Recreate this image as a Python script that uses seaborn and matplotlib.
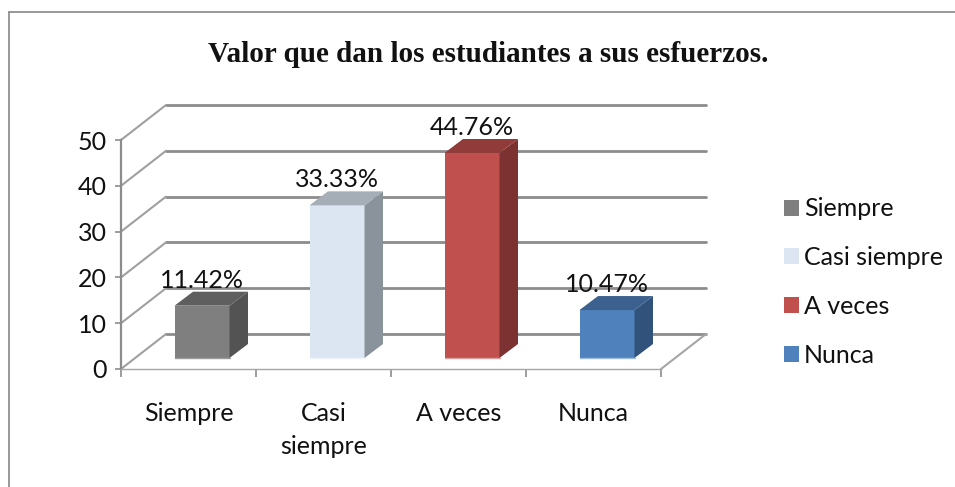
import matplotlib
matplotlib.use('Agg')
import matplotlib.pyplot as plt
import seaborn as sns
from matplotlib.lines import Line2D
from matplotlib.patches import Polygon

categories = ['Siempre', 'Casi siempre', 'A veces', 'Nunca']
tick_labels = ['Siempre', 'Casi\nsiempre', 'A veces', 'Nunca']
values = [11.42, 33.33, 44.76, 10.47]
y_ticks = [0, 10, 20, 30, 40, 50]
title = 'Valor que dan los estudiantes a sus esfuerzos.'

front_colors = ['#7F7F7F', '#DCE6F2', '#C0504D', '#4F81BD']
side_colors = ['#535353', '#8A929C', '#7B3230', '#31527A']
top_colors = ['#5F5F5F', '#A5ADB6', '#913C3A', '#3C618E']
base_colors = ['#9A9A9A', '#EEF3F9', '#D9A09E', '#9DBBDD']
line_color = '#8C8C8C'
text_color = '#111111'

sns.set_theme(style='white')
plt.rcParams['font.family'] = ['Lato', 'DejaVu Sans']

W, H = 955, 487
fig = plt.figure(figsize=(W / 100, H / 100), dpi=100)
# front plane of the fake 3D box, in pixels
left, right, y0_px, y50_px = 121, 661, 369, 140
ax = fig.add_axes([left / W, (H - y0_px) / H, (right - left) / W, (y0_px - y50_px) / H])

sns.barplot(x=categories, y=values, hue=categories, palette=front_colors,
            width=55 / 135, saturation=1, legend=True, linewidth=0, ax=ax, zorder=3)
ax.set_xlim(-0.5, 3.5)
ax.set_ylim(0, 50)

# pixels to data units
ux = (right - left) / 4
uy = (y0_px - y50_px) / 50
wall_dx, wall_dy = 45 / ux, 35 / uy
bar_dx, bar_dy = 13.5 / ux, 11 / uy
side_dx, side_dy = 18.5 / ux, 14 / uy

# back wall gridlines, running back from the value axis
for t in y_ticks:
    ax.plot([-0.5 + wall_dx, 3.5 + wall_dx], [t + wall_dy, t + wall_dy],
            color=line_color, lw=2, clip_on=False, zorder=1)
    ax.plot([-0.5, -0.5 + wall_dx], [t, t + wall_dy],
            color='#A0A0A0', lw=1.5, clip_on=False, zorder=1)
ax.plot([3.5, 3.5 + wall_dx], [0, wall_dy], color='#A6A6A6', lw=1.5, clip_on=False, zorder=1)

# shift bars into the depth of the box and give them side and top faces
for i, cont in enumerate(ax.containers):
    for bar in cont:
        bar.set_x(bar.get_x() + bar_dx)
        bar.set_y(bar_dy)
        bar.set_clip_on(False)
        x0, x1 = bar.get_x(), bar.get_x() + bar.get_width()
        y1 = bar_dy
        y2 = bar_dy + bar.get_height()
        ax.add_patch(Polygon([(x1, y1), (x1 + side_dx, y1 + side_dy), (x1 + side_dx, y2 + side_dy), (x1, y2)],
                             facecolor=side_colors[i], edgecolor='none', clip_on=False, zorder=3))
        ax.add_patch(Polygon([(x0, y2), (x0 + side_dx, y2 + side_dy), (x1 + side_dx, y2 + side_dy), (x1, y2)],
                             facecolor=top_colors[i], edgecolor='none', clip_on=False, zorder=3))
        ax.plot([x0, x1], [y1, y1], color=base_colors[i], lw=1, clip_on=False, zorder=4)
    ax.bar_label(cont, labels=[f'{values[i]:.2f}%'], padding=10, fontsize=18,
                 color=text_color, zorder=5)

sns.despine(ax=ax)
ax.spines['left'].set_color(line_color)
ax.spines['bottom'].set_color('#A6A6A6')
ax.spines['left'].set_linewidth(1.6)
ax.spines['bottom'].set_linewidth(1.0)

ax.set_yticks(y_ticks)
ax.tick_params(axis='y', length=4, width=1.2, color=line_color, left=True, pad=6,
               labelsize=18, labelcolor=text_color)
ax.set_xticks([-0.5, 0.5, 1.5, 2.5, 3.5])
ax.set_xticklabels([])
ax.set_xticks([0, 1, 2, 3], labels=tick_labels, minor=True)
ax.tick_params(axis='x', which='major', length=6, width=1.2, color=line_color, bottom=True)
ax.tick_params(axis='x', which='minor', length=0, pad=24, labelsize=18, labelcolor=text_color)
for lab in ax.get_xticklabels(minor=True):
    lab.set_linespacing(1.5)
    lab.set_verticalalignment('top')

sns.move_legend(ax, 'center left', bbox_to_anchor=(784 / W, (H - 282) / H),
                bbox_transform=fig.transFigure, frameon=False, title=None,
                fontsize=18, labelcolor=text_color, handlelength=0.6, handleheight=0.6,
                handletextpad=0.2, labelspacing=1.03, borderpad=0, borderaxespad=0)

fig.text(488 / W, (H - 54) / H, title, family='Liberation Serif', weight='bold',
         fontsize=21, color=text_color, ha='center', va='center')

# chart frame: only the top and left edges are in the picture
frame_y = (H - 11.5) / H
frame_x = 8.5 / W
fig.add_artist(Line2D([frame_x, frame_x], [0, frame_y], color='#868686', lw=1.2))
fig.add_artist(Line2D([frame_x, 1], [frame_y, frame_y], color='#868686', lw=1.2))

fig.savefig('out.png', dpi=100)
